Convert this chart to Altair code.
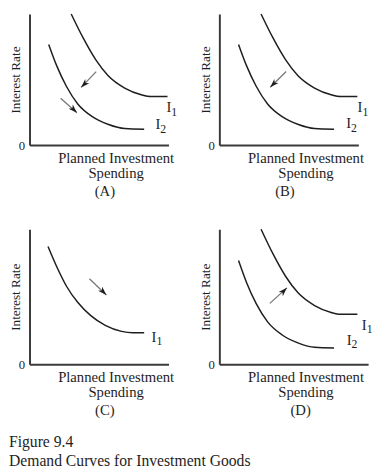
import altair as alt
import pandas as pd

FONT = "Liberation Serif"
INK = "#1e1e1e"
AXC = "#3a3a3a"

# Demand curves (data units: x = planned investment, y = interest rate, both 0-10)
i1_x = [3.0, 3.85, 4.76, 5.66, 6.85, 8.04, 8.74, 9.93]
i1_y = [10.0, 8.19, 6.52, 5.29, 4.35, 3.84, 3.70, 3.70]
i2_x = [1.38, 1.96, 2.66, 3.47, 4.52, 5.69, 6.85, 8.25]
i2_y = [7.68, 6.04, 4.47, 3.14, 2.17, 1.57, 1.26, 1.21]
c1_x = [1.33, 1.96, 2.66, 3.48, 4.41, 5.45, 6.62, 7.43, 8.25]
c1_y = [8.72, 7.22, 5.78, 4.57, 3.60, 2.88, 2.44, 2.34, 2.34]

panels = ["A", "B", "C", "D"]
panel_curves = {"A": ["I1", "I2"], "B": ["I1", "I2"], "C": ["C1"], "D": ["I1", "I2"]}
curve_pts = {"I1": (i1_x, i1_y), "I2": (i2_x, i2_y), "C1": (c1_x, c1_y)}

# Shift arrows
arrow_panel = ["A", "A", "B", "C", "D"]
arrow_x1 = [4.80, 2.24, 4.81, 4.31, 3.63]
arrow_y1 = [5.60, 3.57, 5.61, 6.33, 4.51]
arrow_x2 = [3.71, 3.41, 3.66, 5.53, 4.86]
arrow_y2 = [4.40, 2.46, 4.41, 5.13, 5.66]
arrow_angle = [225, 135, 225, 135, 45]

# Curve labels
label_panel = ["A", "A", "B", "B", "C", "D", "D"]
label_main = ["I", "I", "I", "I", "I", "I", "I"]
label_sub = ["1", "2", "1", "2", "1", "1", "2"]
label_x = [10.03, 9.24, 10.12, 9.30, 8.96, 10.42, 9.33]
label_y = [2.88, 1.58, 2.88, 1.65, 2.01, 2.90, 1.82]

panel_width = {"A": 142, "B": 142, "C": 142, "D": 152}
panel_height = {"A": 134, "B": 134, "C": 138, "D": 138}
panel_xmax = {"A": 10, "B": 10, "C": 10, "D": 10.7}
panel_title_dx = {"A": 6, "B": -4, "C": 6, "D": 7}

rows = []
for p in panels:
    for c in panel_curves[p]:
        xs, ys = curve_pts[c]
        for i, (x, y) in enumerate(zip(xs, ys)):
            rows.append({"panel": p, "curve": c, "i": i, "x": x, "y": y})
curves_df = pd.DataFrame(rows)
arrows_df = pd.DataFrame({"panel": arrow_panel, "x1": arrow_x1, "y1": arrow_y1,
                          "x2": arrow_x2, "y2": arrow_y2, "angle": arrow_angle})
labels_df = pd.DataFrame({"panel": label_panel, "main": label_main, "sub": label_sub,
                          "x": label_x, "y": label_y})

ARROW = "M0,0 L0.6,1.8 L0,1.3 L-0.6,1.8 Z"


def make_panel(p):
    w = panel_width[p]
    h = panel_height[p]
    xs = alt.Scale(domain=[0, panel_xmax[p]], nice=False, zero=False)
    ys = alt.Scale(domain=[0, 10], nice=False, zero=False)
    xaxis = alt.Axis(title=["Planned Investment", "Spending"], labels=False, ticks=False,
                     grid=False, domainColor=AXC, domainWidth=2,
                     titleFont=FONT, titleFontSize=15, titleFontWeight="normal",
                     titleColor=INK, titleX=88, titleY=6, titleAlign="center",
                     titleBaseline="top", titleLineHeight=15, titleAngle=0)
    yaxis = alt.Axis(title="Interest Rate", values=[0], ticks=False, tickSize=0, grid=False,
                     domainColor=AXC, domainWidth=2, labelFont=FONT, labelFontSize=13,
                     labelColor=INK, labelPadding=5, labelFlush=False,
                     titleFont=FONT, titleFontSize=13.5, titleFontWeight="normal",
                     titleColor=INK, titleX=-14, titleY=h / 2, titleBaseline="middle",
                     titleAlign="center", titleAngle=270)
    cdf = curves_df[curves_df.panel == p]
    adf = arrows_df[arrows_df.panel == p]
    ldf = labels_df[labels_df.panel == p]

    lines = alt.Chart(cdf).mark_line(interpolate="monotone", color=INK, strokeWidth=1.5).encode(
        x=alt.X("x:Q", scale=xs, axis=xaxis),
        y=alt.Y("y:Q", scale=ys, axis=yaxis),
        detail="curve:N", order="i:Q")
    layers = [lines]
    if len(adf):
        shafts = alt.Chart(adf).mark_rule(color="#777777", strokeWidth=1.3).encode(
            x=alt.X("x1:Q", scale=xs, axis=xaxis), y=alt.Y("y1:Q", scale=ys, axis=yaxis),
            x2="x2:Q", y2="y2:Q")
        heads = alt.Chart(adf).mark_point(shape=ARROW, filled=True, color=INK, size=100,
                                          opacity=1, strokeWidth=0).encode(
            x=alt.X("x2:Q", scale=xs, axis=xaxis), y=alt.Y("y2:Q", scale=ys, axis=yaxis),
            angle=alt.Angle("angle:Q", scale=None))
        layers += [shafts, heads]
    main = alt.Chart(ldf).mark_text(font=FONT, fontSize=15, color=INK, align="center",
                                    baseline="middle").encode(
        x=alt.X("x:Q", scale=xs, axis=xaxis), y=alt.Y("y:Q", scale=ys, axis=yaxis),
        text="main:N")
    sub = alt.Chart(ldf).mark_text(font=FONT, fontSize=12, color=INK, align="center",
                                   baseline="middle", dx=5.5, dy=4.5).encode(
        x=alt.X("x:Q", scale=xs, axis=xaxis), y=alt.Y("y:Q", scale=ys, axis=yaxis),
        text="sub:N")
    layers += [main, sub]
    title = alt.Title("(" + p + ")", orient="bottom", font=FONT, fontSize=15,
                      fontWeight="normal", color=INK, dx=panel_title_dx[p], offset=4)
    return alt.layer(*layers).properties(width=w, height=h, title=title)


chart = alt.concat(
    *[make_panel(p) for p in panels], columns=2,
    spacing={"row": 86, "column": 52}, bounds="flush",
).properties(
    title=alt.Title(["Figure 9.4", "Demand Curves for Investment Goods"], orient="bottom",
                    anchor="start", font=FONT, fontSize=16, fontWeight="normal", color=INK,
                    lineHeight=19, offset=17),
    padding={"top": -2, "left": 0, "right": 0, "bottom": 0}, background="white",
).configure_view(stroke=None)

chart.save("out.html", embed_options={"renderer": "svg", "actions": False})
